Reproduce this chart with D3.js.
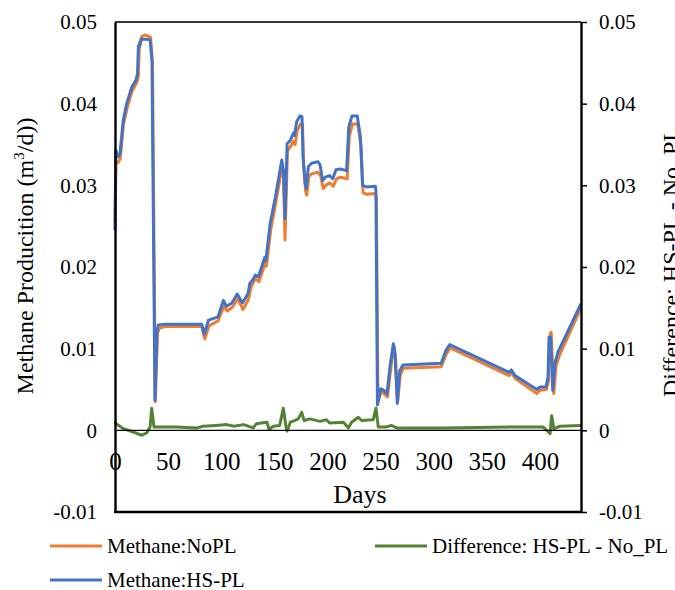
<!DOCTYPE html>
<html><head><meta charset="utf-8">
<script src="https://cdn.jsdelivr.net/npm/d3@7"></script>
<style>
body{margin:0;background:#fff;}
svg text{font-family:"Liberation Serif","Times New Roman",serif;fill:#000;}
</style></head>
<body>
<svg id="chart" width="675" height="590"></svg>
<script>
const xTicks = [0, 50, 100, 150, 200, 250, 300, 350, 400];
const yTicks = [0.05, 0.04, 0.03, 0.02, 0.01, 0, -0.01];
const yTickLabels = ["0.05", "0.04", "0.03", "0.02", "0.01", "0", "-0.01"];
const seriesNames = ["Methane:NoPL", "Difference: HS-PL - No_PL", "Methane:HS-PL"];

const daysHS = [0,0.7,2.8,4.7,7.8,11,15.7,19.8,21.2,22,23,24.5,29.8,33,34.8,37.6,39.5,40.8,47,60,81.6,84,88,97,102,105,110,115,120,125,127,129.6,132,135,141,142,146,151,157,158.5,160,162,165,168,169,171,174,176,177,179,180,182,185,191,193,195.5,198,202,205,208,212,218,220,223,228,231,233,237,245,245.6,247,250,253,256,259,262,263.5,265.7,268,271,307,311.5,315,371,373,376.5,397,400,405.6,407.5,408.5,410,412,414,417,438.6];
const methaneHS = [0.0245,0.0343,0.0335,0.0339,0.038,0.040,0.042,0.0429,0.0437,0.0471,0.0470,0.0479,0.0479,0.0478,0.0453,0.0037,0.0122,0.0129,0.0130,0.0130,0.0130,0.0118,0.0135,0.0139,0.0159,0.0152,0.0156,0.0167,0.0156,0.0167,0.0180,0.0184,0.0190,0.0188,0.0212,0.0208,0.0253,0.0286,0.0331,0.0318,0.0259,0.0351,0.0355,0.0364,0.0361,0.0378,0.0385,0.0384,0.0335,0.0302,0.0296,0.0323,0.0327,0.0329,0.0325,0.0306,0.0310,0.0312,0.0308,0.0319,0.0320,0.0318,0.0371,0.0385,0.0385,0.0359,0.0300,0.0298,0.0299,0.0294,0.0031,0.0051,0.0049,0.0045,0.0080,0.0106,0.0094,0.0033,0.0073,0.0080,0.0082,0.0098,0.0105,0.0071,0.0074,0.0067,0.0050,0.0053,0.0053,0.0065,0.0114,0.0114,0.0049,0.0082,0.0096,0.0155];

const daysNo = [0,1,3,5,8,11.5,16,20.5,22,23,24,25,28,31,33.5,35.3,38,40,41.5,47,81.6,84.5,88.5,97,102.5,105.5,110,115.5,120.5,125.5,128,132,135.5,141.5,142.5,146.5,151.5,157.5,158.7,160,162.3,165,168,169.5,171.5,174.5,176.5,177.5,179.5,180.5,182.5,185,191,193.5,196,198.5,202,205.5,208.5,212,218.5,220.5,223.5,228.5,231.5,233.5,237,245,246,247.5,250.5,253,256.5,259.5,262.5,264,266,268.5,271.5,307,312,315.5,371,373.5,377,397,400,406,408,409.5,410.5,413,415,418,438.6];
const methaneNo = [0.0255,0.0330,0.0328,0.0333,0.0375,0.0395,0.0415,0.0426,0.0433,0.0475,0.0472,0.0482,0.0484,0.0483,0.0481,0.0450,0.0035,0.0118,0.0125,0.0127,0.0127,0.0112,0.0128,0.0134,0.0152,0.0146,0.0150,0.0161,0.0148,0.0160,0.0175,0.0186,0.0182,0.0205,0.0201,0.0245,0.0280,0.0325,0.0310,0.0233,0.0342,0.0347,0.0354,0.0350,0.0367,0.0375,0.0374,0.0325,0.0292,0.0288,0.0311,0.0314,0.0316,0.0312,0.0296,0.0300,0.0303,0.0299,0.0308,0.0310,0.0308,0.0360,0.0375,0.0375,0.0348,0.0291,0.0289,0.0290,0.0285,0.0035,0.0047,0.0045,0.0041,0.0075,0.0104,0.0090,0.0035,0.0068,0.0076,0.0078,0.0094,0.0101,0.0067,0.0070,0.0063,0.0045,0.0049,0.0050,0.0060,0.0118,0.0120,0.0045,0.0078,0.0091,0.0150];

const daysDiff = [0,1,8,17,25,30,33,34.5,36.7,58,77,83,95,105,112,121,130,133,143,145,149,155,158.4,161,162,165,169,172.5,175.7,178,183.5,193,199,202,215,219.6,222.7,229,232,243,245.6,247.8,255,260,265,309,372,403,408,409.5,411,413,419,438.6];
const difference = [0.0011,0.0008,0.0002,-0.0002,-0.0006,-0.0003,0.0004,0.0027,0.0004,0.0004,0.0003,0.0005,0.0006,0.0007,0.0005,0.0007,0.0003,0.0008,0.0010,0.0001,0.0005,0.0006,0.0027,0.0004,-0.0001,0.0010,0.0012,0.0014,0.0022,0.0012,0.0014,0.0011,0.0013,0.0009,0.0010,0.0003,0.0010,0.0016,0.0012,0.0013,0.0027,0.0004,0.0004,0.0006,0.0003,0.0003,0.0004,0.0004,-0.0002,-0.0004,0.0018,0.0002,0.0005,0.0006];

const colors = {no: "#ED7D31", hs: "#4472C4", diff: "#548235"};
const SERIF = "Liberation Serif, Times New Roman, serif";

const svg = d3.select("#chart");
const L = 115, R = 581, T = 22, B = 512;
const x = d3.scaleLinear().domain([0, 438.6]).range([L, R]);
const y = d3.scaleLinear().domain([-0.01, 0.05]).range([B, T]);

// top border
svg.append("line").attr("x1", L).attr("x2", R).attr("y1", T).attr("y2", T)
  .attr("stroke", "#3a3a3a").attr("stroke-width", 2);

// series
const line = (xs, ys) => d3.line().x((d,i)=>x(xs[i])).y((d,i)=>y(ys[i]))(ys);
const g = svg.append("g");
g.append("path").attr("d", line(daysNo, methaneNo)).attr("fill","none")
  .attr("stroke", colors.no).attr("stroke-width", 3).attr("stroke-linejoin","round");
g.append("path").attr("d", line(daysHS, methaneHS)).attr("fill","none")
  .attr("stroke", colors.hs).attr("stroke-width", 3).attr("stroke-linejoin","round");

// zero line
svg.append("line").attr("x1", L).attr("x2", R).attr("y1", y(0)).attr("y2", y(0))
  .attr("stroke", "#000").attr("stroke-width", 1.2);

g.append("path").attr("d", line(daysDiff, difference)).attr("fill","none")
  .attr("stroke", colors.diff).attr("stroke-width", 3).attr("stroke-linejoin","round");

function styleAxis(sel, size) {
  sel.attr("font-family", SERIF).attr("font-size", size);
  sel.selectAll("text").attr("font-family", SERIF).attr("font-size", size).attr("fill", "#000");
}

// bottom axis (labels along zero line)
const xAxis = svg.append("g").attr("transform", `translate(0,${y(0)})`)
  .call(d3.axisBottom(x).tickValues(xTicks).tickSize(0).tickPadding(22).tickFormat(d3.format("d")));
xAxis.select(".domain").remove();
styleAxis(xAxis, 25);

// left axis
const yAxisL = svg.append("g").attr("transform", `translate(${L},0)`)
  .call(d3.axisLeft(y).tickValues(yTicks).tickSize(0).tickPadding(18).tickFormat((d,i)=>yTickLabels[i]));
yAxisL.select(".domain").attr("stroke","#000").attr("stroke-width", 2.4);
styleAxis(yAxisL, 21);

// right axis
const yAxisR = svg.append("g").attr("transform", `translate(${R},0)`)
  .call(d3.axisRight(y).tickValues(yTicks).tickSize(6).tickSizeOuter(0).tickPadding(12).tickFormat((d,i)=>yTickLabels[i]));
yAxisR.select(".domain").attr("stroke","#000").attr("stroke-width", 2.4);
yAxisR.selectAll("line").attr("stroke","#000").attr("stroke-width", 1.5);
styleAxis(yAxisR, 21);

// bottom border
svg.append("line").attr("x1", L-1).attr("x2", R+1).attr("y1", B).attr("y2", B)
  .attr("stroke", "#000").attr("stroke-width", 2.4);

// titles
svg.append("text").attr("x", 360).attr("y", 503).attr("text-anchor","middle")
  .attr("font-size", 26).text("Days");
const lt = svg.append("text").attr("transform", "translate(33,256) rotate(-90)")
  .attr("text-anchor","middle").attr("font-size", 24);
lt.append("tspan").text("Methane Producition (m");
lt.append("tspan").attr("font-size", 15).attr("dy", -9).text("3");
lt.append("tspan").attr("dy", 9).text("/d))");
svg.append("text").attr("transform", "translate(679,262) rotate(-90)")
  .attr("text-anchor","middle").attr("font-size", 24).text("Difference: HS-PL - No_PL");

// legend
const legend = [
  {name: seriesNames[0], color: colors.no, x: 50, y: 546},
  {name: seriesNames[1], color: colors.diff, x: 375, y: 546},
  {name: seriesNames[2], color: colors.hs, x: 50, y: 580}
];
legend.forEach(d => {
  svg.append("line").attr("x1", d.x).attr("x2", d.x + 52).attr("y1", d.y).attr("y2", d.y)
    .attr("stroke", d.color).attr("stroke-width", 3);
  svg.append("text").attr("x", d.x + 57).attr("y", d.y + 6.5).attr("font-size", 21).text(d.name);
});
</script>
</body></html>
